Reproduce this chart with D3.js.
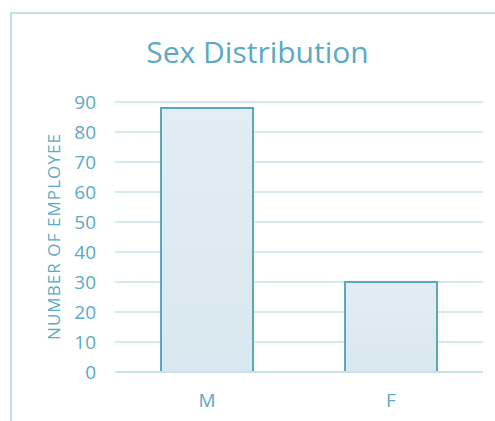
<!DOCTYPE html>
<html>
<head>
<meta charset="utf-8">
<script src="https://cdn.jsdelivr.net/npm/d3@7"></script>
<style>
  html, body { margin: 0; padding: 0; background: #fff; }
  svg text { font-family: "Open Sans", Lato, sans-serif; fill: #5ba9c2; }
</style>
</head>
<body>
<div id="chart"></div>
<script>
// ----------------------------------
// DATA
// ----------------------------------
const categories = ['M', 'F'];
const employees = [88, 30];
const yTicks = [0, 10, 20, 30, 40, 50, 60, 70, 80, 90];
const chartTitle = 'Sex Distribution';
const yLabel = 'NUMBER OF EMPLOYEE';

const width = 495,
      height = 421,
      margin = {top: 102, right: 12, bottom: 49, left: 115},
      innerWidth = width - margin.left - margin.right,
      innerHeight = height - margin.top - margin.bottom;

const textColor = '#5ba9c2',
      gridColor = '#c9e2ea',
      barStroke = '#5aa7bf';

const svg = d3.select('#chart')
  .append('svg')
  .attr('width', width)
  .attr('height', height);

// gradient for the bar fill
const grad = svg.append('defs').append('linearGradient')
  .attr('id', 'barFill')
  .attr('x1', 0).attr('y1', 0).attr('x2', 0).attr('y2', 1);
grad.append('stop').attr('offset', '0%').attr('stop-color', '#e1edf3');
grad.append('stop').attr('offset', '100%').attr('stop-color', '#d9e8ee');

// chart frame (runs off the right and bottom of the picture)
svg.append('rect')
  .attr('x', 11).attr('y', 13)
  .attr('width', 500).attr('height', 420)
  .attr('fill', 'none')
  .attr('stroke', '#c3dfe8')
  .attr('stroke-width', 2);

svg.append('text')
  .attr('x', 257.5)
  .attr('y', 63)
  .attr('text-anchor', 'middle')
  .style('font-size', '30px')
  .text(chartTitle);

const chartInner = svg.append('g')
  .attr('transform', `translate(${margin.left}, ${margin.top})`);

// ----------------------------------
// SCALES
// ----------------------------------
const xScale = d3.scaleBand()
  .domain(categories)
  .range([0, innerWidth])
  .paddingInner(0.5)
  .paddingOuter(0.25);

const yScale = d3.scaleLinear()
  .domain([0, 90])
  .range([innerHeight, 0]);

// gridlines
chartInner.selectAll('.grid')
  .data(yTicks.filter(d => d > 0))
  .join('line')
  .attr('class', 'grid')
  .attr('x1', 0).attr('x2', innerWidth)
  .attr('y1', d => yScale(d)).attr('y2', d => yScale(d))
  .attr('stroke', gridColor)
  .attr('stroke-width', 1.5);

// bars
chartInner.selectAll('.bar')
  .data(employees)
  .join('rect')
  .attr('class', 'bar')
  .attr('x', (d, i) => xScale(categories[i]))
  .attr('y', d => yScale(d))
  .attr('width', xScale.bandwidth())
  .attr('height', d => innerHeight - yScale(d))
  .attr('fill', 'url(#barFill)')
  .attr('stroke', barStroke)
  .attr('stroke-width', 2);

// baseline on top of the bars
chartInner.append('line')
  .attr('x1', 0).attr('x2', innerWidth)
  .attr('y1', yScale(0)).attr('y2', yScale(0))
  .attr('stroke', gridColor)
  .attr('stroke-width', 2);

// ----------------------------------
// AXES
// ----------------------------------
const yAxis = svg.append('g')
  .attr('transform', `translate(${margin.left}, ${margin.top})`)
  .call(d3.axisLeft(yScale).tickValues(yTicks).tickSize(0).tickPadding(19));
yAxis.select('.domain').remove();
yAxis.selectAll('text')
  .attr('fill', textColor)
  .style('font-size', '19px')
  .style('font-family', '"Open Sans", sans-serif');

const xAxis = svg.append('g')
  .attr('transform', `translate(${margin.left}, ${margin.top + innerHeight})`)
  .call(d3.axisBottom(xScale).tickSize(0).tickPadding(21.5));
xAxis.select('.domain').remove();
xAxis.selectAll('text')
  .attr('fill', textColor)
  .style('font-size', '19px')
  .style('font-family', '"Open Sans", sans-serif');

svg.append('text')
  .attr('transform', 'translate(60, 237) rotate(-90)')
  .attr('text-anchor', 'middle')
  .attr('textLength', 206)
  .attr('lengthAdjust', 'spacing')
  .style('font-size', '17px')
  .text(yLabel);
</script>
</body>
</html>
